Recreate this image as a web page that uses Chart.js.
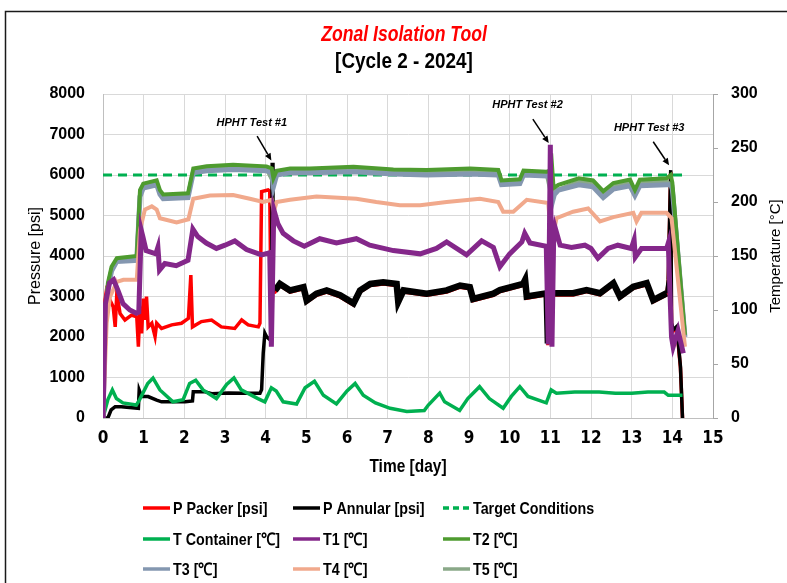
<!DOCTYPE html>
<html><head><meta charset="utf-8">
<script src="https://cdn.jsdelivr.net/npm/chart.js@4.4.1/dist/chart.umd.min.js"></script>
<style>
html,body{margin:0;padding:0;background:#fff;}
#wrap{position:relative;width:787px;height:583px;overflow:hidden;}
canvas{display:block;}
</style></head><body>
<div id="wrap"><canvas id="c" width="787" height="583"></canvas></div>
<script>
// ---- texts ----
const titleText = 'Zonal Isolation Tool';
const subtitleText = '[Cycle 2 - 2024]';
const xTitle = 'Time [day]';
const yLeftTitle = 'Pressure [psi]';
const yRightTitle = 'Temperature [°C]';

// ---- tick labels ----
const dayTicks = [0,1,2,3,4,5,6,7,8,9,10,11,12,13,14,15];
const pressureTicks = [0,1000,2000,3000,4000,5000,6000,7000,8000];
const tempTicks = [0,50,100,150,200,250,300];

// ---- series (x = day) ----
const pPackerDays = [0,0.02,0.05,0.08,0.13,0.25,0.3,0.34,0.42,0.54,0.7,0.83,0.87,0.91,0.95,0.99,1.03,1.07,1.11,1.2,1.28,1.32,1.44,1.69,1.93,2.1,2.16,2.2,2.42,2.67,2.91,3.24,3.41,3.57,3.82,3.86,3.9,4.06,4.1,4.14,4.17,4.23,4.35,4.6,4.93,5.01,5.25,5.5,5.83,6.16,6.32,6.57,6.89,7.22,7.26,7.39,7.96,8.45,8.78,9.02,9.1,9.6,9.76,10.33,10.38,10.42,10.91,10.94,10.97,11.07,11.56,11.89,12.22,12.55,12.71,13.04,13.37,13.53,13.86,13.9,13.96,13.98,14.02,14.11,14.2,14.25];
const pPackerPsi  = [0,2340,2910,3120,3000,2750,2250,3080,2580,2420,2540,2500,1760,2750,2090,2950,2420,3000,2250,2340,2010,2340,2210,2300,2340,2460,3530,2250,2380,2420,2250,2210,2420,2300,2250,2340,5590,5630,5600,2000,3100,3110,3270,3110,3190,2860,3030,3110,2990,2790,3110,3270,3310,3270,2830,3110,3030,3110,3230,3190,2900,3030,3120,3270,3370,2960,3040,1800,3040,3040,3040,3120,3040,3290,2960,3200,3290,2870,3040,3370,6080,2300,2140,2220,1230,0];

const pAnnularDays = [0,0.12,0.2,0.3,0.45,0.87,0.89,0.95,1.11,1.32,1.44,2.02,2.2,2.22,2.5,2.67,3.08,3.49,3.86,3.9,3.94,3.98,4.02,4.11,4.14,4.16,4.18,4.23,4.35,4.6,4.93,5.01,5.25,5.5,5.83,6.16,6.32,6.57,6.89,7.22,7.26,7.39,7.96,8.45,8.78,9.02,9.1,9.6,9.76,10.33,10.38,10.42,10.91,10.94,10.97,11.07,11.56,11.89,12.22,12.55,12.71,13.04,13.37,13.53,13.86,13.9,13.96,13.98,14.02,14.11,14.2,14.25];
const pAnnularPsi  = [0,0,200,280,280,240,690,530,530,440,400,400,420,650,650,600,620,610,610,700,1600,2090,2010,1930,2000,6300,3150,3150,3310,3150,3230,2900,3070,3150,3030,2830,3150,3310,3350,3310,2870,3150,3070,3150,3270,3230,2940,3070,3160,3310,3410,3000,3080,1840,3080,3080,3080,3160,3080,3330,3000,3240,3330,2910,3080,3410,6120,2350,2180,2260,1270,0];

const targetDays = [0,14.3];
const targetPsi  = [6000,6000];

const tContDays = [0,0.12,0.23,0.33,0.49,0.82,0.9,1.1,1.23,1.4,1.72,1.97,2.13,2.28,2.46,2.79,3.04,3.22,3.4,3.81,3.98,4.14,4.26,4.43,4.76,4.97,5.2,5.42,5.74,6.0,6.2,6.4,6.7,7.06,7.47,7.9,8.0,8.28,8.4,8.77,8.97,9.26,9.5,9.84,10.04,10.25,10.45,10.9,11.02,11.15,11.6,12.2,12.6,13.0,13.4,13.8,13.9,14.25];
const tContC    = [0,17,26,18,14,12,17,32,37,26,15,17,32,35,26,18,31,37,26,18,15,28,25,15,13,28,34,21,13,25,32,21,14,9,6,7,12,23,15,7,18,29,18,9,20,29,20,14,26,23,24,24,23,23,24,24,21,21];

const t1Days = [0,0.06,0.16,0.26,0.37,0.49,0.66,0.82,0.88,0.94,0.98,1.06,1.3,1.35,1.39,1.52,1.8,2.09,2.21,2.33,2.54,2.79,3.0,3.24,3.53,3.9,4.1,4.14,4.2,4.3,4.43,4.68,4.95,5.33,5.74,6.23,6.56,7.14,7.8,8.2,8.45,8.94,9.31,9.6,9.76,10.0,10.3,10.37,10.5,10.9,10.95,11.0,11.04,11.08,11.12,11.24,11.52,11.85,12.0,12.17,12.42,12.66,12.99,13.06,13.09,13.24,13.86,13.9,13.98,14.02,14.14,14.27];
const t1C    = [0,106,125,128,118,106,100,97,98,174,168,155,152,158,137,143,141,146,175,168,162,157,160,164,156,151,153,66,193,180,171,164,159,166,162,166,160,155,152,157,163,151,164,158,140,152,163,171,162,159,68,253,66,162,176,160,158,160,157,148,157,160,157,165,149,157,157,162,75,66,81,60];

const t2Days = [0,0.05,0.12,0.21,0.34,0.83,0.91,0.99,1.32,1.4,1.48,2.09,2.22,2.55,3.2,4.02,4.15,4.19,4.27,4.6,5.09,6.16,7.14,7.96,9.03,9.72,9.8,10.25,10.34,10.91,10.99,11.02,11.08,11.2,11.7,12.05,12.3,12.55,12.96,13.08,13.2,13.86,13.96,14.0,14.31];
const t2C    = [0,90,125,140,148,150,211,217,220,211,207,208,231,233,234.6,233,231,222,229,231,231,232.7,230,229.6,231,229.6,220,221,229,228,229,245,213,216,222,220,210,217.6,220.7,211,220.7,222,225,218,77];

const t3Days = [0,0.05,0.12,0.21,0.34,0.83,0.91,0.99,1.32,1.4,1.48,2.09,2.22,2.55,3.2,4.02,4.15,4.19,4.27,4.6,5.09,6.16,7.14,7.96,9.03,9.72,9.8,10.25,10.34,10.91,10.99,11.03,11.1,11.2,11.7,12.05,12.3,12.55,12.96,13.08,13.2,13.86,13.96,14.0,14.31];
const t3C    = [0,85,120,136,145,146,205,213,216,207,203,204,227,229,230,229,227,214,225,227,227,228,226,225,226,225,216,217,225,224,225,197,207,211,216,214,204,212,215,206,215,216,216,212,75];

const t4Days = [0,0.09,0.17,0.34,0.5,0.83,0.91,1.03,1.2,1.32,1.4,1.81,2.1,2.22,2.63,3.2,3.61,3.94,4.15,4.2,4.27,4.6,5.25,6.23,6.72,7.3,7.8,8.45,9.27,9.72,9.84,10.09,10.42,10.95,11.03,11.15,11.56,11.93,12.22,12.55,13.04,13.12,13.24,13.86,13.98,14.31];
const t4C    = [0,88,112,126,128,128,174,193,196,193,185,181,184,203,206,206.5,203,200,202,191,200,202,205,203,200,197,197,200,203,200,191,191,202,199,160,185,191,194,182,186,190,182,190,190,185,66];

const t5Days = [0,0.05,0.12,0.21,0.34,0.83,0.91,0.99,1.32,1.4,1.48,2.09,2.22,2.55,3.2,4.02,4.19,4.27,5.09,6.16,7.14,7.96,9.03,9.72,9.8,10.25,10.34,10.91,11.03,11.1,11.7,12.05,12.3,12.55,12.96,13.08,13.2,13.86,14.0,14.31];
const t5C    = [0,87,122,138,146,148,208,215,218,209,205,206,229,231,232,231,218,227,229,230,228,227,228,227,218,219,227,226,205,210,219,217,207,215,218,208,218,219,215,76];

// ---- annotations (data coordinates: day, psi) ----
const annotations = [
  {text:'HPHT Test #1', tx:3.66, ty:7290, ax0:3.79, ay0:6960, ax1:4.14, ay1:6360},
  {text:'HPHT Test #2', tx:10.44, ty:7720, ax0:10.57, ay0:7380, ax1:10.96, ay1:6790},
  {text:'HPHT Test #3', tx:13.43, ty:7150, ax0:13.53, ay0:6820, ax1:13.92, ay1:6240}
];

const pts = (xs, ys) => xs.map((x, i) => ({x, y: ys[i]}));
const NARROW = "'DejaVu Sans Condensed','Liberation Sans',sans-serif";
const SANS = "'Liberation Sans',Arial,sans-serif";

function ds(label, xs, ys, color, width, axis, order, extra) {
  return Object.assign({
    label, data: pts(xs, ys), borderColor: color, backgroundColor: color,
    borderWidth: width, yAxisID: axis, pointRadius: 0, tension: 0, fill: false, order
  }, extra || {});
}

const datasets = [
  ds('P Packer [psi]', pPackerDays, pPackerPsi, '#ff0000', 3.5, 'y', 8),
  ds('P Annular [psi]', pAnnularDays, pAnnularPsi, '#000000', 3.5, 'y', 7,
     {segment: {borderWidth: c => (c.p0.parsed.x > 4.2 && c.p1.parsed.x < 13.9 ? 6.5 : 3.5)}}),
  ds('Target Conditions', targetDays, targetPsi, '#00b050', 3, 'y', 9, {borderDash: [9, 6]}),
  ds('T Container [℃]', tContDays, tContC, '#00b050', 3.5, 'y1', 6),
  ds('T1 [℃]', t1Days, t1C, '#84278a', 5, 'y1', 1),
  ds('T2 [℃]', t2Days, t2C, '#4e9b2f', 4, 'y1', 3),
  ds('T3 [℃]', t3Days, t3C, '#8497b0', 5, 'y1', 4),
  ds('T4 [℃]', t4Days, t4C, '#f1a98c', 4, 'y1', 2),
  ds('T5 [℃]', t5Days, t5C, '#8aa888', 4, 'y1', 5)
];

function squeezedText(ctx, text, x, y, sx, align) {
  ctx.save();
  ctx.translate(x, y);
  ctx.scale(sx, 1);
  ctx.textAlign = align;
  ctx.fillText(text, 0, 0);
  ctx.restore();
}

const frameAndText = {
  id: 'frameAndText',
  beforeDraw(chart) {
    const ctx = chart.ctx;
    ctx.save();
    ctx.fillStyle = '#fff';
    ctx.fillRect(0, 0, chart.width, chart.height);
    ctx.strokeStyle = '#1a1a1a';
    ctx.lineWidth = 1.5;
    ctx.strokeRect(5.5, 11.5, 900, 900);
    ctx.restore();
  },
  afterDraw(chart) {
    const ctx = chart.ctx;
    const xs = chart.scales.x, ys = chart.scales.y;
    ctx.save();
    ctx.textBaseline = 'middle';
    // titles
    ctx.fillStyle = '#ff0000';
    ctx.font = 'italic bold 22px ' + SANS;
    squeezedText(ctx, titleText, 404, 35, 0.8, 'center');
    ctx.fillStyle = '#000';
    ctx.font = 'bold 22px ' + SANS;
    squeezedText(ctx, subtitleText, 404, 62, 0.86, 'center');

    // x axis title
    ctx.font = 'bold 18px ' + SANS;
    squeezedText(ctx, xTitle, (chart.chartArea.left + chart.chartArea.right) / 2, 467, 0.86, 'center');

    // right axis title (reads bottom to top)
    ctx.save();
    ctx.translate(776, (chart.chartArea.top + chart.chartArea.bottom) / 2);
    ctx.rotate(-Math.PI / 2);
    ctx.font = '15px ' + SANS;
    ctx.textAlign = 'center';
    ctx.fillText(yRightTitle, 0, 0);
    ctx.restore();

    // annotations
    annotations.forEach(a => {
      ctx.fillStyle = '#000';
      ctx.font = 'italic bold 11px ' + SANS;
      ctx.textAlign = 'center';
      ctx.fillText(a.text, xs.getPixelForValue(a.tx), ys.getPixelForValue(a.ty));
      const x0 = xs.getPixelForValue(a.ax0), y0 = ys.getPixelForValue(a.ay0);
      const x1 = xs.getPixelForValue(a.ax1), y1 = ys.getPixelForValue(a.ay1);
      const ang = Math.atan2(y1 - y0, x1 - x0);
      const hl = 7, hw = 3.2;
      const bx = x1 - hl * Math.cos(ang), by = y1 - hl * Math.sin(ang);
      ctx.strokeStyle = '#000';
      ctx.lineWidth = 1.5;
      ctx.beginPath(); ctx.moveTo(x0, y0); ctx.lineTo(bx, by); ctx.stroke();
      ctx.beginPath();
      ctx.moveTo(x1, y1);
      ctx.lineTo(bx + hw * Math.sin(ang), by - hw * Math.cos(ang));
      ctx.lineTo(bx - hw * Math.sin(ang), by + hw * Math.cos(ang));
      ctx.closePath(); ctx.fill();
    });

    // legend: 3 columns x 3 rows
    const colX = [143, 293, 443], rowY = [508, 539, 569];
    chart.data.datasets.forEach((d, i) => {
      const cx = colX[i % 3], cy = rowY[Math.floor(i / 3)];
      ctx.strokeStyle = d.borderColor;
      ctx.lineWidth = 3.5;
      ctx.setLineDash(d.borderDash ? [6, 4] : []);
      ctx.beginPath(); ctx.moveTo(cx, cy); ctx.lineTo(cx + 27, cy); ctx.stroke();
      ctx.setLineDash([]);
      ctx.fillStyle = '#000';
      ctx.font = 'bold 17px ' + SANS;
      squeezedText(ctx, d.label, cx + 30, cy + 1, 0.84, 'left');
    });
    ctx.restore();
  }
};

const gridColor = '#d9d9d9';
new Chart(document.getElementById('c'), {
  type: 'line',
  data: { datasets },
  plugins: [frameAndText],
  options: {
    responsive: false,
    animation: false,
    events: [],
    layout: { padding: { top: 94, left: 0, right: 0, bottom: 0 } },
    plugins: { legend: { display: false }, title: { display: false }, tooltip: { enabled: false } },
    scales: {
      x: {
        type: 'linear', min: dayTicks[0], max: dayTicks[dayTicks.length - 1],
        afterFit: s => { s.height = 165; },
        afterBuildTicks: s => { s.ticks = dayTicks.map(v => ({value: v})); },
        ticks: { color: '#000', padding: 10, font: { family: NARROW, size: 17, weight: 'bold' }, autoSkip: false, maxRotation: 0 },
        grid: { color: gridColor, drawTicks: false },
        border: { color: '#bfbfbf' },
        title: { display: false }
      },
      y: {
        position: 'left', min: pressureTicks[0], max: pressureTicks[pressureTicks.length - 1],
        afterFit: s => { s.width = 103; },
        afterBuildTicks: s => { s.ticks = pressureTicks.map(v => ({value: v})); },
        ticks: { color: '#000', padding: 18, font: { family: SANS, size: 16, weight: 'bold' }, callback: v => String(v) },
        grid: { color: gridColor, drawTicks: false },
        border: { color: '#bfbfbf' },
        title: { display: true, text: yLeftTitle, color: '#000', font: { family: SANS, size: 16 }, padding: { top: 26, bottom: 0 } }
      },
      y1: {
        position: 'right', min: tempTicks[0], max: tempTicks[tempTicks.length - 1],
        afterFit: s => { s.width = 74; },
        afterBuildTicks: s => { s.ticks = tempTicks.map(v => ({value: v})); },
        ticks: { color: '#000', padding: 13, font: { family: SANS, size: 16, weight: 'bold' }, callback: v => String(v) },
        grid: { drawOnChartArea: false, drawTicks: true, tickLength: 5, color: '#a6a6a6' },
        border: { color: '#a6a6a6' },
        title: { display: false }
      }
    }
  }
});
</script>
</body></html>
